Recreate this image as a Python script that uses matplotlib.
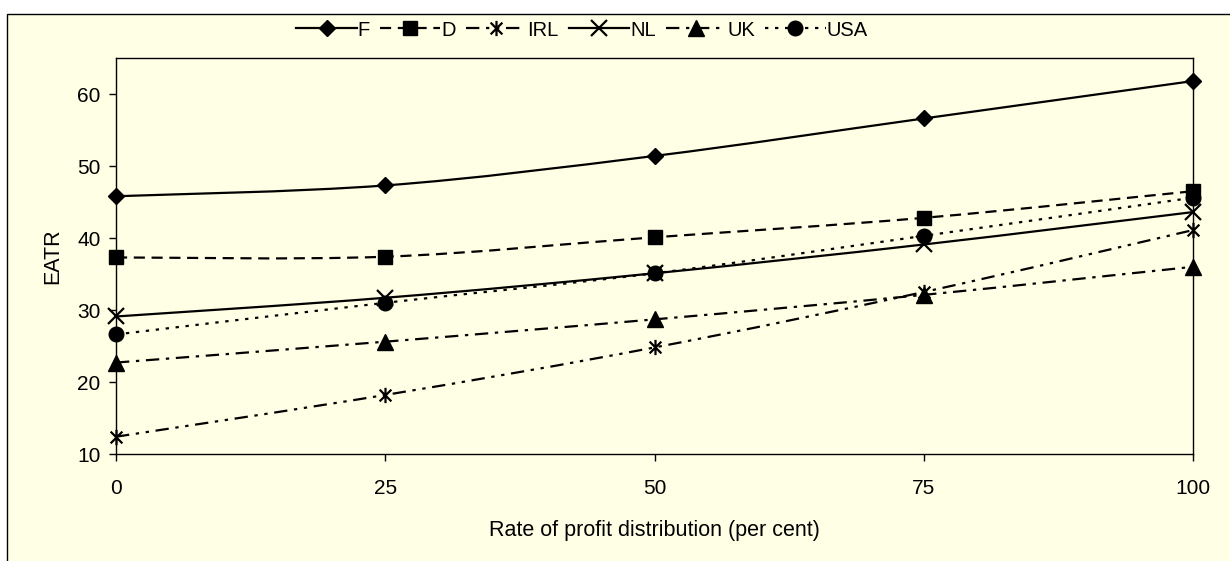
"""
EATR against rate of profit distribution, six countries.
"""

import numpy as np
import matplotlib
matplotlib.use('Agg')
import matplotlib.pyplot as plt
from matplotlib.path import Path
from matplotlib.patches import PathPatch, Rectangle
from matplotlib.lines import Line2D

plt.rcParams['font.family'] = ['Liberation Sans', 'DejaVu Sans']

# data
rate = [0, 25, 50, 75, 100]
countries = ['F', 'D', 'IRL', 'NL', 'UK', 'USA']
eatr_F = [45.8, 47.3, 51.4, 56.6, 61.8]
eatr_D = [37.3, 37.4, 40.1, 42.8, 46.5]
eatr_IRL = [12.4, 18.2, 24.8, 32.5, 41.1]
eatr_NL = [29.1, 31.7, 35.1, 39.1, 43.6]
eatr_UK = [22.7, 25.6, 28.7, 32.1, 36.0]
eatr_USA = [26.6, 31.0, 35.1, 40.3, 45.6]
x_ticks = [0, 25, 50, 75, 100]
y_ticks = [10, 20, 30, 40, 50, 60]

bg = '#FFFFE6'

# star marker like Excel's (x with a vertical bar)
star = Path([(-1, -1), (1, 1), (-1, 1), (1, -1), (0, -1.3), (0, 1.3)],
            [Path.MOVETO, Path.LINETO, Path.MOVETO, Path.LINETO,
             Path.MOVETO, Path.LINETO])

styles = {
    'F':   dict(ls='-', marker='D', ms=8.5, mew=1),
    'D':   dict(ls=(0, (5, 3)), marker='s', ms=10.5, mew=1),
    'IRL': dict(ls=(0, (6, 3, 1.5, 3, 1.5, 3)), marker=star, ms=11, mew=1.6),
    'NL':  dict(ls='-', marker='x', ms=11, mew=1.6),
    'UK':  dict(ls=(0, (6, 3, 1.5, 3)), marker='^', ms=11, mew=1),
    'USA': dict(ls=(0, (1.5, 3)), marker='o', ms=10.5, mew=1),
}
values = {'F': eatr_F, 'D': eatr_D, 'IRL': eatr_IRL,
          'NL': eatr_NL, 'UK': eatr_UK, 'USA': eatr_USA}


def smooth_path(x, y):
    """Bezier path through the points, like a smoothed spreadsheet line."""
    p = np.column_stack([x, y]).astype(float)
    ext = np.vstack([p[0], p, p[-1]])
    verts = [p[0]]
    codes = [Path.MOVETO]
    for i in range(len(p) - 1):
        c1 = ext[i + 1] + (ext[i + 2] - ext[i]) / 6.0
        c2 = ext[i + 2] - (ext[i + 3] - ext[i + 1]) / 6.0
        verts += [c1, c2, p[i + 1]]
        codes += [Path.CURVE4] * 3
    return Path(verts, codes)


fig = plt.figure(figsize=(12.3, 5.61), dpi=100, facecolor='white')
fig.patches.append(Rectangle((7 / 1230, -0.1), 1.1, 1.1 - 14 / 561,
                             transform=fig.transFigure, facecolor=bg,
                             edgecolor='black', lw=1.0, zorder=-10))

ax = fig.add_axes([116 / 1230, 1 - 454 / 561, (1193 - 116) / 1230, (454 - 58) / 561])
ax.set_zorder(1)
ax.set_facecolor(bg)

handles = []
for c in countries:
    st = styles[c]
    patch = PathPatch(smooth_path(rate, values[c]), fill=False, edgecolor='black',
                      lw=1.6, linestyle=st['ls'], zorder=2, clip_on=False)
    ax.add_patch(patch)
    ax.plot(rate, values[c], ls='none', marker=st['marker'], ms=st['ms'],
            mew=st['mew'], color='black', zorder=3, clip_on=False)
    handles.append(Line2D([], [], color='black', lw=1.6, ls=st['ls'],
                          marker=st['marker'], ms=st['ms'], mew=st['mew']))

ax.set_xlim(0, 100)
ax.set_ylim(10, 65)
ax.set_xticks(x_ticks)
ax.set_yticks(y_ticks)
ax.tick_params(direction='out', length=5, width=1, labelsize=15)
ax.tick_params(axis='x', pad=13)
ax.tick_params(axis='y', pad=6)
for s in ax.spines.values():
    s.set_linewidth(1.0)
ax.set_xlabel('Rate of profit distribution (per cent)', fontsize=15.5, labelpad=16)
ax.set_ylabel('EATR', fontsize=15.5, labelpad=10)

fig.legend(handles, countries, loc='center', bbox_to_anchor=(582 / 1230, 1 - 30 / 561),
           ncol=6, frameon=False, fontsize=14.5, handlelength=3.0,
           handletextpad=0.05, columnspacing=0.5)

fig.savefig('out.png', dpi=100, facecolor='white')
